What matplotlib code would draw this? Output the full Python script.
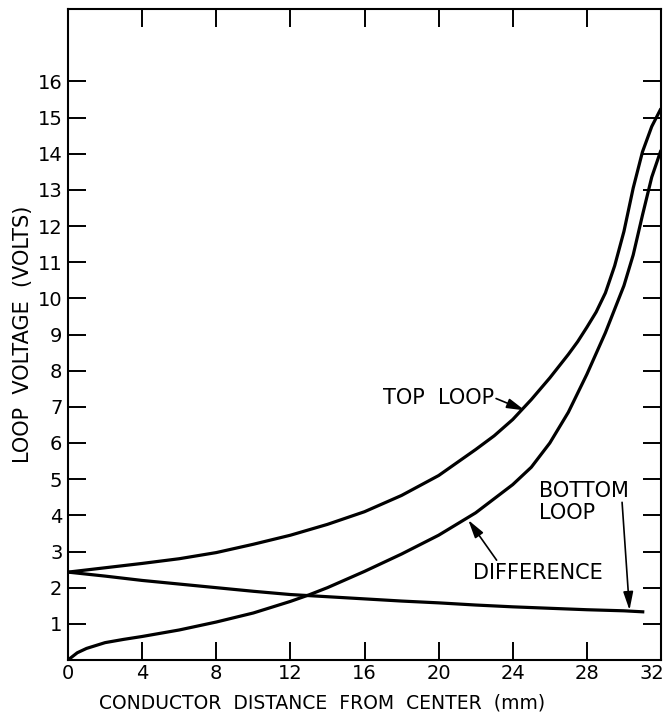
"""Loop voltage vs conductor distance from center: top loop, bottom loop
and their difference, redrawn in the style of an old technical figure."""

import matplotlib
matplotlib.use("Agg")
import matplotlib.pyplot as plt
from matplotlib.transforms import ScaledTranslation

# Values (x in mm, y in volts)
top_x = [0, 2, 4, 6, 8, 10, 12, 14, 16, 18, 20, 22, 23, 24, 25, 26, 27,
         27.5, 28, 28.5, 29, 29.5, 30, 30.5, 31, 31.5, 32]
top_y = [2.43, 2.55, 2.67, 2.8, 2.97, 3.2, 3.45, 3.75, 4.1, 4.55, 5.1,
         5.82, 6.2, 6.65, 7.2, 7.8, 8.45, 8.8, 9.2, 9.62, 10.15, 10.9,
         11.85, 13.05, 14.05, 14.75, 15.25]

diff_x = [0, 0.5, 1, 2, 3, 4, 6, 8, 10, 12, 13, 14, 16, 18, 20, 22, 24,
          25, 26, 27, 28, 29, 30, 30.5, 31, 31.5, 32]
diff_y = [0.0, 0.2, 0.32, 0.48, 0.57, 0.65, 0.83, 1.05, 1.3, 1.62, 1.8,
          2.0, 2.45, 2.93, 3.45, 4.07, 4.85, 5.33, 6.0, 6.85, 7.9, 9.05,
          10.35, 11.2, 12.3, 13.35, 14.1]

bottom_x = [0, 2, 4, 6, 8, 10, 12, 14, 16, 18, 20, 22, 24, 26, 28, 30, 31.1]
bottom_y = [2.43, 2.32, 2.2, 2.1, 2.0, 1.9, 1.81, 1.75, 1.69, 1.63, 1.58,
            1.52, 1.47, 1.43, 1.39, 1.36, 1.33]

x_ticks = [0, 4, 8, 12, 16, 20, 24, 28, 32]
y_ticks = list(range(1, 17))

plt.rcParams['font.family'] = 'DejaVu Sans'

fig = plt.figure(figsize=(6.69, 7.20), dpi=100)
ax = fig.add_axes([68 / 669, 60 / 720, 593 / 669, 651 / 720])

lw = 2.3
ax.plot(top_x, top_y, color='black', lw=lw, solid_capstyle='butt')
ax.plot(diff_x, diff_y, color='black', lw=lw, solid_capstyle='butt')
ax.plot(bottom_x, bottom_y, color='black', lw=lw, solid_capstyle='butt')

ax.set_xlim(0, 32)
ax.set_ylim(0, 18)
ax.set_xticks(x_ticks)
ax.set_xticklabels([str(v) for v in x_ticks])
ax.set_yticks(y_ticks)
ax.set_yticklabels([str(v) for v in y_ticks])

for sp in ax.spines.values():
    sp.set_linewidth(1.5)

ax.tick_params(axis='both', direction='in', width=1.4, length=13,
               top=True, right=True, labelsize=14, colors='black')
ax.tick_params(axis='x', pad=3)
ax.tick_params(axis='y', pad=4)

# last x label sits a little left so it stays inside the picture
last = ax.get_xticklabels()[-1]
last.set_transform(last.get_transform()
                   + ScaledTranslation(-0.09, 0, fig.dpi_scale_trans))

ax.set_xlabel('CONDUCTOR  DISTANCE  FROM  CENTER  (mm)', fontsize=13.5,
              labelpad=7)
ax.xaxis.set_label_coords(0.428, -0.052)
ax.set_ylabel('LOOP  VOLTAGE  (VOLTS)', fontsize=15, labelpad=3)

# labels and arrows
txt = dict(fontsize=15, color='black')
arrow = dict(arrowstyle='-|>,head_length=0.55,head_width=0.15',
             color='black', lw=1.2, shrinkA=0, shrinkB=0, mutation_scale=20)

ax.text(23.0, 7.24, 'TOP  LOOP', ha='right', va='center', **txt)
ax.annotate('', xy=(24.66, 6.9), xytext=(23.1, 7.23), arrowprops=arrow)

ax.text(21.86, 2.4, 'DIFFERENCE', ha='left', va='center', **txt)
ax.annotate('', xy=(21.6, 3.87), xytext=(23.13, 2.76), arrowprops=arrow)

ax.text(25.4, 4.67, 'BOTTOM', ha='left', va='center', **txt)
ax.text(25.4, 4.06, 'LOOP', ha='left', va='center', **txt)
ax.annotate('', xy=(30.3, 1.38), xytext=(29.9, 4.36), arrowprops=arrow)

fig.savefig('out.png', dpi=100)
